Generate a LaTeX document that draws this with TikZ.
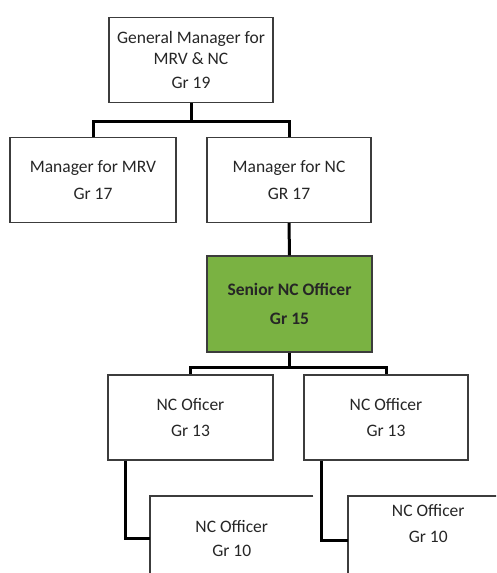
\documentclass[tikz,border=0pt]{standalone}
\usepackage{fontspec}
\setmainfont{Carlito}
\usepackage{tikz}
\usetikzlibrary{
	arrows.meta,
	positioning,
	calc
}
\definecolor{verde}{RGB}{122,178,66}
\definecolor{borda}{RGB}{60,60,60}

\begin{document}
\begin{tikzpicture}[
			x=1pt, y=-1pt,
			font=\fontsize{17.5}{20.5}\selectfont,
			cargo/.style={draw=borda, line width=1.3pt, minimum width=164pt, minimum height=85pt, align=center, fill=white, inner sep=2pt, text=black!85},
			aberta/.style={minimum width=163pt, align=center, inner sep=2pt, text=black!85},
			lig/.style={line width=3pt, black}
		]
		\clip (0,0) rectangle (496,573);
		\fill[white] (0,0) rectangle (496,573);

		\node[cargo] (gm) at (191,60) {General Manager for\\MRV \& NC\\[4pt]Gr 19};
		\node[cargo, minimum width=166pt] (mrv) at (93,180) {Manager for MRV\\[6pt]Gr 17};
		\node[cargo] (nc) at (289,180) {Manager for NC\\[6pt]GR 17};
		\node[cargo, fill=verde, minimum width=165pt, minimum height=96pt, font=\fontsize{17.5}{20.5}\selectfont\bfseries] (snr) at (289.5,304) {Senior NC Officer\\[8pt]Gr 15};
		\node[cargo, minimum width=165pt] (of1) at (190.5,417.5) {NC Oficer\\[5pt]Gr 13};
		\node[cargo] (of2) at (386,417.5) {NC Officer\\[5pt]Gr 13};

		% caixas de baixo, cortadas na imagem
		\node[aberta, anchor=north west, minimum height=85pt] (b1) at (150,496) {NC Officer\\[4pt]Gr 10};
		\node[aberta, anchor=north west, minimum height=55pt, minimum width=160pt] (b2) at (348,496) {NC Officer\\[6pt]Gr 10};
		\draw[borda, line width=1.3pt] (b1.north east) -- (b1.north west) -- ++(0,90);
		\draw[borda, line width=1.3pt] (b2.north east) -- (b2.north west) -- ++(0,90);
		\coordinate (b2in) at ([yshift=-44pt]b2.north west);

		\draw[lig] (gm.south) -- ++(0,18) -| (mrv.north);
		\draw[lig] (gm.south) -- ++(0,18) -| (nc.north);
		\draw[lig] (nc.south) -- (snr.north);
		\draw[lig] (snr.south) -- ++(0,15) -| (of1.north);
		\draw[lig] (snr.south) -- ++(0,15) -| (of2.north);
		\draw[lig] ([xshift=18pt]of1.south west) |- (b1.west);
		\draw[lig] ([xshift=18pt]of2.south west) |- (b2in);
	\end{tikzpicture}
\end{document}
